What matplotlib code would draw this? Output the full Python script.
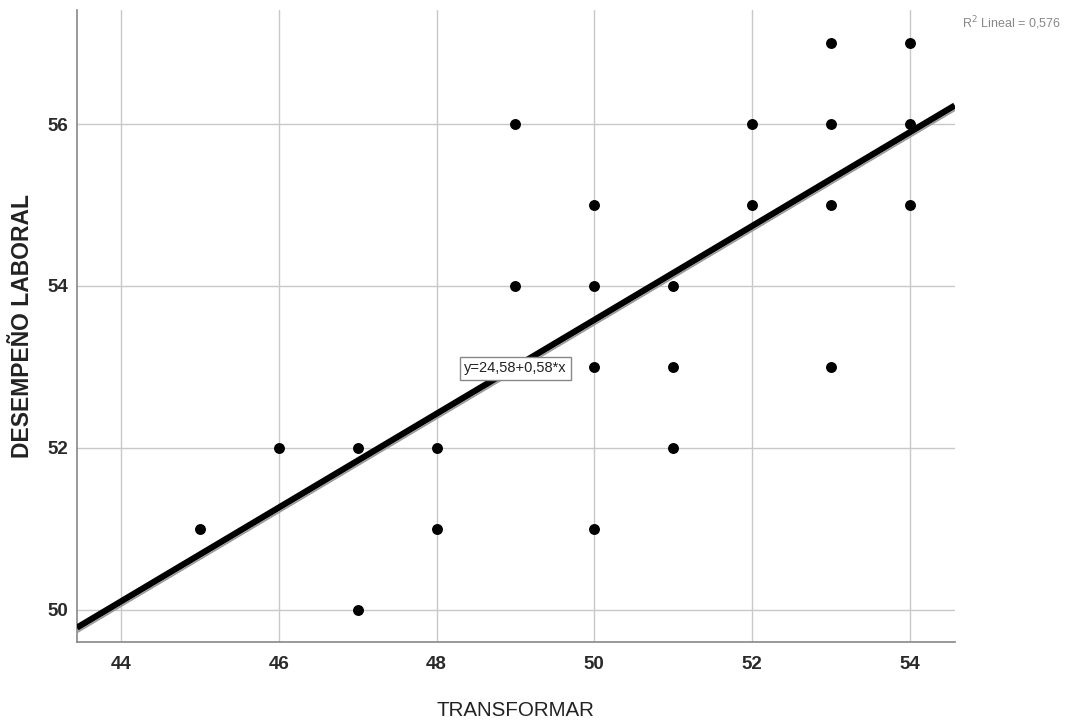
import matplotlib
matplotlib.use("Agg")
import matplotlib.pyplot as plt
import numpy as np

plt.rcParams['font.family'] = ['Liberation Sans', 'DejaVu Sans']

transformar = [45, 46, 47, 47, 48, 48, 49, 49, 50, 50, 50, 50, 51, 51, 51,
               52, 52, 53, 53, 53, 53, 54, 54, 54]
desempeno = [51, 52, 52, 50, 52, 51, 56, 54, 55, 54, 53, 51, 54, 53, 52,
             56, 55, 57, 56, 55, 53, 57, 56, 55]
intercept = 24.58
slope = 0.58
r2_label = "R$^2$ Lineal = 0,576"
eq_label = "y=24,58+0,58*x"
x_ticks = [44, 46, 48, 50, 52, 54]
y_ticks = [50, 52, 54, 56]

fig = plt.figure(figsize=(10.68, 7.22), dpi=100)
ax = fig.add_axes([0.072, 0.111, 0.822, 0.875])
xlim = (43.44, 54.57)
ylim = (49.6, 57.41)
ax.set_xlim(*xlim)
ax.set_ylim(*ylim)

ax.set_xticks(x_ticks)
ax.set_yticks(y_ticks)
ax.grid(True, color='#c8c8c8', linewidth=1.0)
ax.set_axisbelow(True)
for s in ['top', 'right']:
    ax.spines[s].set_visible(False)
for s in ['left', 'bottom']:
    ax.spines[s].set_color('#888888')
    ax.spines[s].set_linewidth(1.2)
ax.tick_params(axis='x', length=0, pad=10, labelsize=13.5)
ax.tick_params(axis='y', length=0, pad=6, labelsize=13.5)
for lab in ax.get_xticklabels() + ax.get_yticklabels():
    lab.set_fontweight('bold')
    lab.set_color('#2a2a2a')

xs = np.array(xlim)
ys = intercept + slope * xs
ax.plot(xs, ys - 0.06, color='#999999', linewidth=1.2, zorder=3)
ax.plot(xs, ys, color='black', linewidth=4.5, zorder=4, solid_capstyle='butt')

ax.scatter(transformar, desempeno, s=62, color='black', zorder=5, linewidths=0)

ax.text(49.0, 52.98, eq_label, fontsize=10.5, ha='center', va='center', color='#222222',
        bbox=dict(boxstyle='square,pad=0.3', facecolor='white', edgecolor='#888888', linewidth=1.0),
        zorder=6)

fig.text(0.993, 0.968, r2_label, fontsize=9, ha='right', va='center', color='#888888')

ax.set_xlabel('TRANSFORMAR', fontsize=14.8, labelpad=20, color='#222222')
ax.set_ylabel('DESEMPEÑO LABORAL', fontsize=16.5, fontweight='bold', labelpad=10, color='#222222')

fig.savefig('out.png', dpi=100)
